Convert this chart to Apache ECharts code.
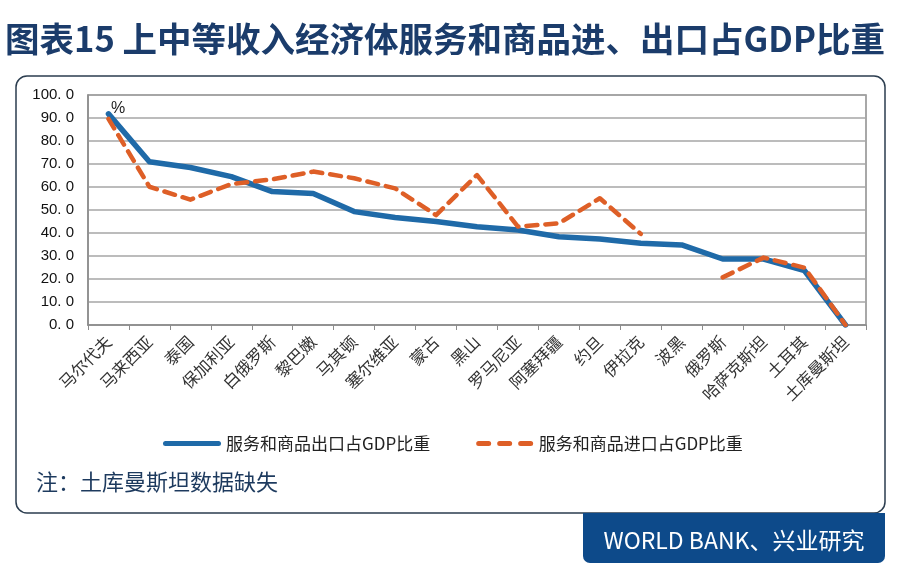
<!DOCTYPE html>
<html><head><meta charset="utf-8">
<script src="https://cdn.jsdelivr.net/npm/echarts@6/dist/echarts.min.js"></script>
<style>html,body{margin:0;padding:0;background:#fff}#c{width:900px;height:577px}</style>
</head><body><div id="c"></div>
<script>
const categories = ['马尔代夫','马来西亚','泰国','保加利亚','白俄罗斯','黎巴嫩','马其顿','塞尔维亚','蒙古','黑山','罗马尼亚','阿塞拜疆','约旦','伊拉克','波黑','俄罗斯','哈萨克斯坦','土耳其','土库曼斯坦'];
const exportShare = [91.8, 71.0, 68.5, 64.5, 58.0, 57.2, 49.3, 46.7, 45.0, 42.7, 41.3, 38.4, 37.4, 35.5, 34.8, 28.7, 28.7, 23.6, 0];
const importShare = [89.6, 60.1, 54.5, 61.3, 63.3, 66.7, 63.8, 59.4, 47.8, 65.2, 42.8, 44.2, 55.1, 39.6, null, 20.7, 29.3, 24.9, 0];
const seriesNames = ['服务和商品出口占GDP比重', '服务和商品进口占GDP比重'];
const yTicks = {min: 0, max: 100, interval: 10};

const CJK = '"Noto Sans CJK SC", "Noto Sans", sans-serif';
const solidIcon = 'path://M2.5,0H55.5A2.5,2.5,0,0,1,55.5,5H2.5A2.5,2.5,0,0,1,2.5,0Z';
const dashIcon = 'path://M2.5,0H12.5A2.5,2.5,0,0,1,12.5,5H2.5A2.5,2.5,0,0,1,2.5,0Z M23.5,0H33.5A2.5,2.5,0,0,1,33.5,5H23.5A2.5,2.5,0,0,1,23.5,0Z M44.5,0H54.5A2.5,2.5,0,0,1,54.5,5H44.5A2.5,2.5,0,0,1,44.5,0Z';
const chart = echarts.init(document.getElementById('c'), null, {renderer: 'canvas'});
chart.setOption({
  animation: false,
  backgroundColor: '#fff',
  textStyle: {fontFamily: CJK},
  grid: {left: 88, top: 95, right: 34, bottom: 252, show: true, borderColor: '#8c8c8c', borderWidth: 1.5, backgroundColor: 'transparent'},
  legend: {
    top: 435, left: 163, itemWidth: 58, itemHeight: 5, itemGap: 46, padding: 0,
    textStyle: {fontSize: 17, color: '#222', fontFamily: CJK},
    data: [{name: seriesNames[0], icon: solidIcon}, {name: seriesNames[1], icon: dashIcon}]
  },
  xAxis: {
    type: 'category', data: categories, boundaryGap: true,
    axisLine: {show: true, lineStyle: {color: '#8c8c8c', width: 1.5}},
    axisTick: {show: true, length: 5, lineStyle: {color: '#8c8c8c'}},
    axisLabel: {interval: 0, rotate: 45, fontSize: 16.5, color: '#333', margin: 14, fontFamily: CJK},
    splitLine: {show: false}
  },
  yAxis: {
    type: 'value', min: yTicks.min, max: yTicks.max, interval: yTicks.interval,
    axisLine: {show: true, lineStyle: {color: '#8c8c8c', width: 1.5}},
    axisTick: {show: false},
    axisLabel: {fontSize: 15, color: '#111', margin: 14, fontFamily: '"Liberation Sans", Arial, sans-serif',
      formatter: v => v.toFixed(1).replace('.', '. ')},
    splitLine: {show: true, lineStyle: {color: '#a6a6a6', width: 1.5}}
  },
  series: [
    {name: seriesNames[0], type: 'line', data: exportShare, symbol: 'none', z: 3,
     lineStyle: {color: '#1f6aa8', width: 5.5, cap: 'round', join: 'round'}, itemStyle: {color: '#1f6aa8'}},
    {name: seriesNames[1], type: 'line', data: importShare, symbol: 'none', connectNulls: false, z: 4,
     lineStyle: {color: '#de5f27', width: 4.5, type: [11, 8], cap: 'round', join: 'round'}, itemStyle: {color: '#de5f27'}}
  ],
  graphic: [
    {type: 'rect', z: -10, shape: {x: 16, y: 76, width: 869, height: 437, r: 11},
     style: {fill: '#fff', stroke: '#2b3d4f', lineWidth: 1.5}},
    {type: 'rect', z: 10, shape: {x: 583, y: 513, width: 302, height: 50, r: [0, 0, 7, 7]},
     style: {fill: '#0d4a8a'}},
    {type: 'text', z: 11, style: {x: 734, y: 540, text: 'WORLD BANK、兴业研究', fill: '#fff',
      font: '23px "Noto Sans CJK SC", "Noto Sans", sans-serif', textAlign: 'center', textVerticalAlign: 'middle'}},
    {type: 'text', z: 11, style: {x: 445, y: 39, text: '图表15 上中等收入经济体服务和商品进、出口占GDP比重', fill: '#1b3c6b',
      font: 'bold 34.5px "Noto Sans CJK SC", "Noto Sans", sans-serif', textAlign: 'center', textVerticalAlign: 'middle'}},
    {type: 'text', z: 11, style: {x: 36, y: 482, text: '注：土库曼斯坦数据缺失', fill: '#1d3a5e',
      font: '22px "Noto Sans CJK SC", "Noto Sans", sans-serif', textAlign: 'left', textVerticalAlign: 'middle'}},
    {type: 'text', z: 11, style: {x: 111, y: 109, text: '%', fill: '#222',
      font: '16px "Liberation Sans", Arial, sans-serif', textAlign: 'left', textVerticalAlign: 'middle'}}
  ]
});
</script></body></html>
